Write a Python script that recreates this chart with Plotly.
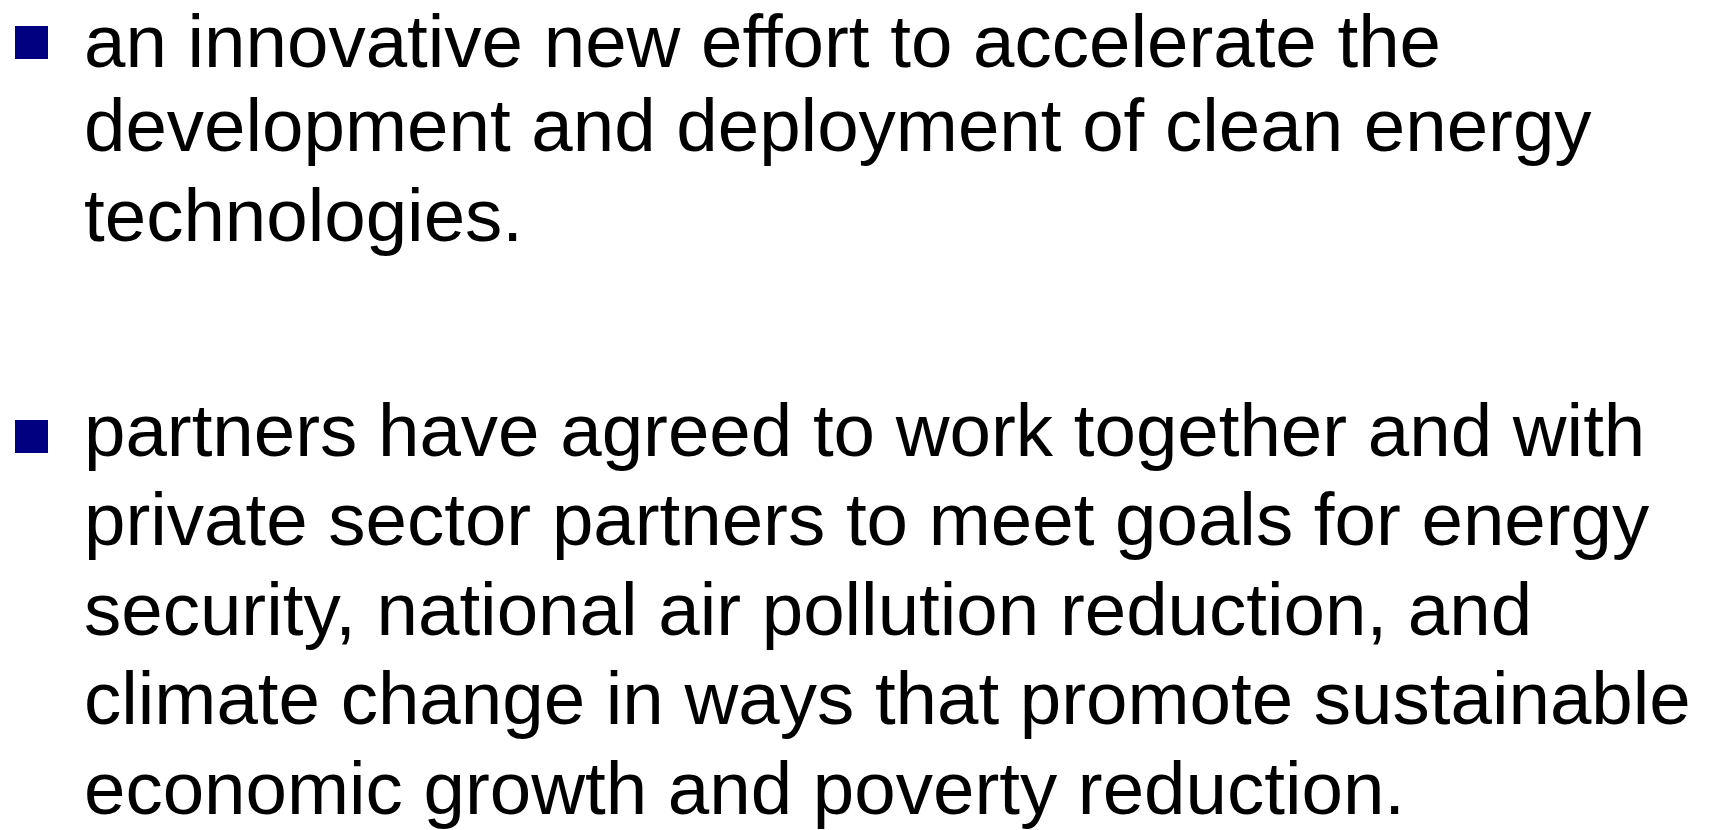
import plotly.graph_objects as go

W, H = 1712, 830

# Slide text content (one entry per rendered line)
bullet1_lines = [
    "an innovative new effort to accelerate the",
    "development and deployment of clean energy",
    "technologies.",
]
bullet2_lines = [
    "partners have agreed to work together and with",
    "private sector partners to meet goals for energy",
    "security, national air pollution reduction, and",
    "climate change in ways that promote sustainable",
    "economic growth and poverty reduction.",
]
bullet_color = "#000080"
text_color = "#000000"

FS = 74.5
TEXT_X = 83
# baselines (px from top) of each line
block1_baselines = [68, 152.5, 242]
block2_baselines = [457, 546.5, 636, 725.5, 815]
bullet_bottoms = [59, 453]

blocks = [(bullet1_lines, block1_baselines), (bullet2_lines, block2_baselines)]

fig = go.Figure()
annotations = []
shapes = []


def py(ypx):
    return 1 - ypx / H


def px(xpx):
    return xpx / W


for (lines, baselines), bb in zip(blocks, bullet_bottoms):
    # bullet square
    shapes.append(dict(
        type="rect", xref="paper", yref="paper",
        x0=px(15), x1=px(48), y0=py(bb), y1=py(bb - 33),
        fillcolor=bullet_color, line=dict(width=0),
    ))
    for line, baseline in zip(lines, baselines):
        bottom = baseline + 0.212 * FS
        annotations.append(dict(
            text=line, xref="paper", yref="paper",
            x=px(TEXT_X), y=py(bottom), xanchor="left", yanchor="bottom",
            showarrow=False, borderpad=0, align="left",
            font=dict(family="Liberation Sans, Arial, sans-serif", size=FS, color=text_color),
        ))

fig.update_layout(
    width=W, height=H,
    margin=dict(l=0, r=0, t=0, b=0),
    paper_bgcolor="white", plot_bgcolor="white",
    xaxis=dict(visible=False, range=[0, 1]),
    yaxis=dict(visible=False, range=[0, 1]),
    annotations=annotations, shapes=shapes,
    showlegend=False,
)

fig.write_html("out.html", config={"displayModeBar": False},
               post_script="document.body.style.margin='0';document.body.style.overflow='hidden';")
